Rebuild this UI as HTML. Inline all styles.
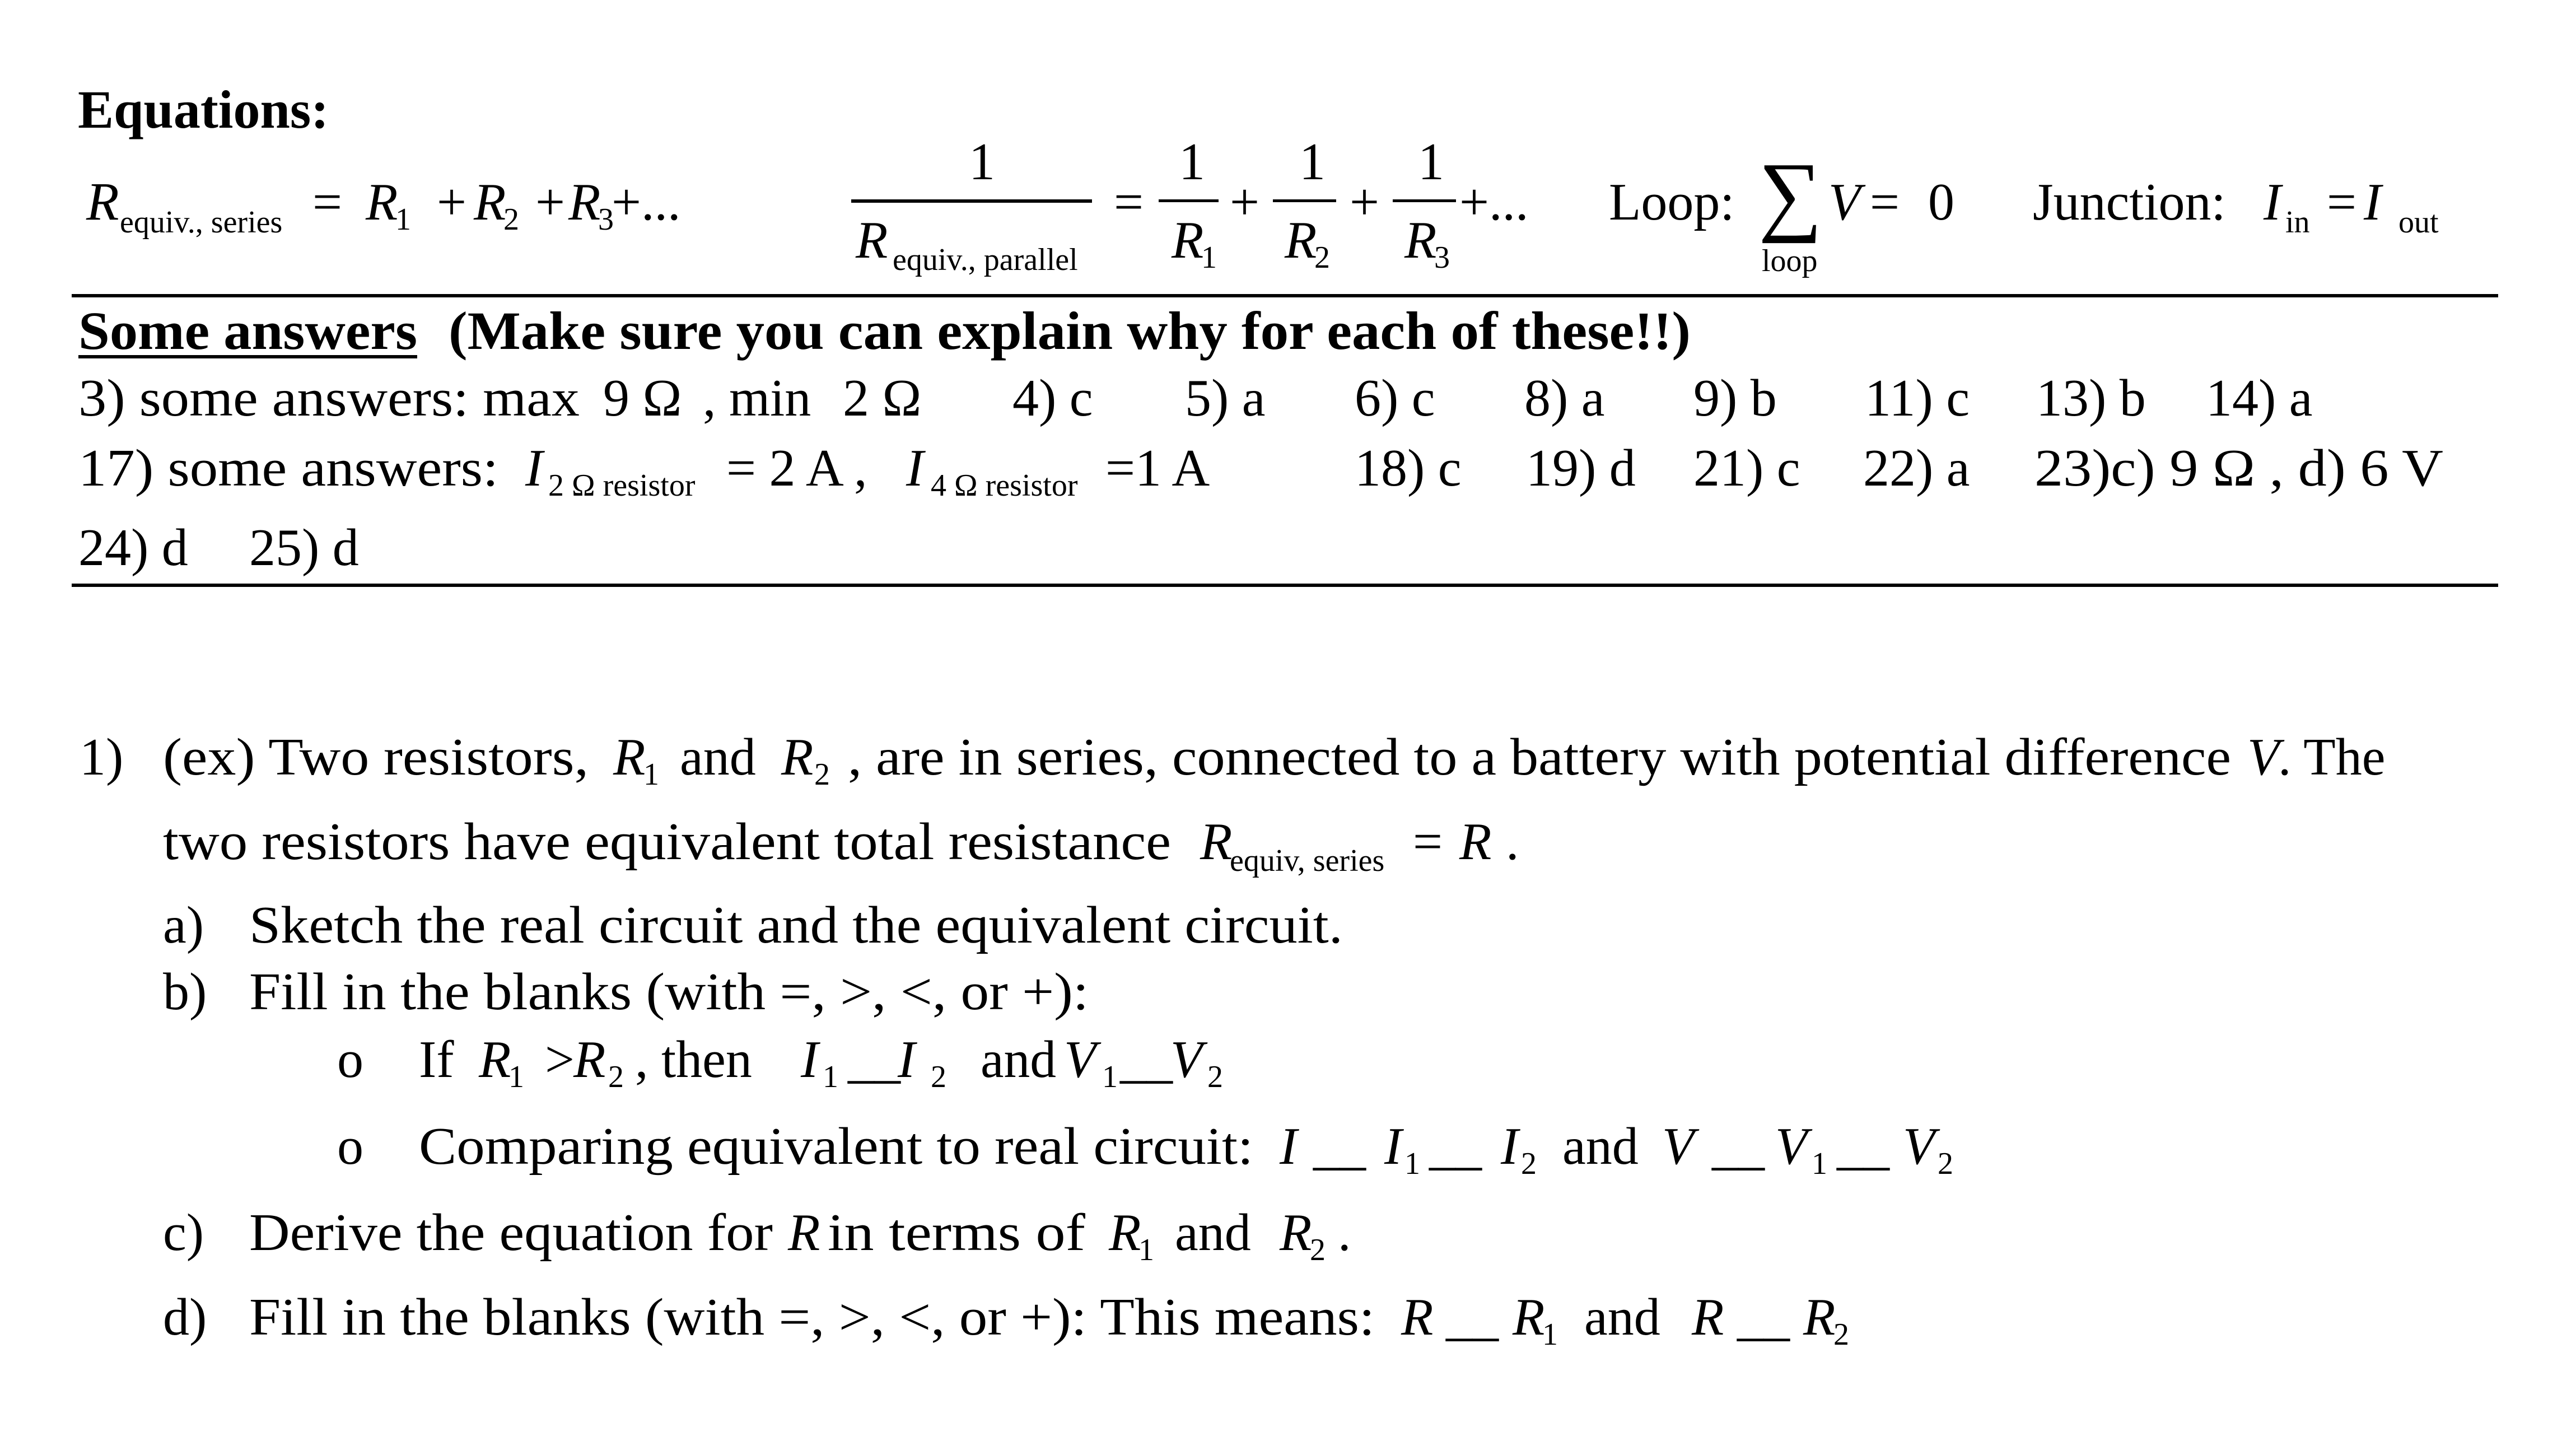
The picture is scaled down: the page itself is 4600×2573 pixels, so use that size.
<!DOCTYPE html>
<html><head><meta charset="utf-8"><style>
html,body{margin:0;padding:0;background:#fff;}
svg{display:block;}
text{font-family:"Liberation Serif",serif;fill:#000;}
.i{font-style:italic;}
.s{font-size:56px;}
.b{font-weight:bold;}
</style></head><body>
<svg width="4600" height="2573" viewBox="0 0 4600 2573" xmlns="http://www.w3.org/2000/svg" font-size="94">
<rect width="4600" height="2573" fill="#fff"/>
<text x="139" y="228" class="b" font-size="96">Equations:</text>

<text x="154" y="392" class="i" font-size="96">R</text>
<text x="214" y="415" class="s">equiv., series</text>
<text x="558" y="392">=</text>
<text x="653" y="392" class="i">R</text><text x="706" y="410" class="s">1</text>
<text x="780" y="392">+</text>
<text x="846" y="392" class="i">R</text><text x="899" y="410" class="s">2</text>
<text x="956" y="392">+</text>
<text x="1015" y="392" class="i">R</text><text x="1068" y="410" class="s">3</text>
<text x="1092" y="392">+...</text>

<text x="1730" y="320">1</text>
<rect x="1520" y="356" width="430" height="6"/>
<text x="1528" y="460" class="i">R</text>
<text x="1594" y="482" class="s">equiv., parallel</text>
<text x="1989" y="392">=</text>
<rect x="2069" y="356" width="107" height="5"/>
<text x="2105" y="320">1</text>
<text x="2092" y="460" class="i">R</text><text x="2145" y="478" class="s">1</text>
<text x="2196" y="392">+</text>
<rect x="2273" y="356" width="113" height="5"/>
<text x="2320" y="320">1</text>
<text x="2294" y="460" class="i">R</text><text x="2347" y="478" class="s">2</text>
<text x="2410" y="392">+</text>
<rect x="2487" y="356" width="113" height="5"/>
<text x="2532" y="320">1</text>
<text x="2508" y="460" class="i">R</text><text x="2561" y="478" class="s">3</text>
<text x="2606" y="392">+...</text>

<text x="2873" y="392">Loop:</text>
<text x="3140" y="400" font-size="160">∑</text>
<text x="3146" y="484" class="s">loop</text>
<text x="3265" y="392" class="i">V</text>
<text x="3339" y="392">=</text>
<text x="3443" y="392">0</text>
<text x="3630" y="392">Junction:</text>
<text x="4042" y="392" class="i">I</text><text x="4081" y="415" class="s">in</text>
<text x="4155" y="392">=</text>
<text x="4221" y="392" class="i">I</text><text x="4283" y="415" class="s">out</text>

<rect x="128" y="525" width="4333" height="6"/>

<text x="140" y="623" class="b" font-size="96" textLength="605" lengthAdjust="spacingAndGlyphs">Some answers</text>
<rect x="140" y="634" width="605" height="6"/>
<text x="801" y="623" class="b" font-size="96" textLength="2218" lengthAdjust="spacingAndGlyphs">(Make sure you can explain why for each of these!!)</text>

<text x="140" y="742" textLength="895" lengthAdjust="spacingAndGlyphs">3) some answers: max</text>
<text x="1077" y="742">9 Ω</text>
<text x="1255" y="742">, min</text>
<text x="1505" y="742">2 Ω</text>
<text x="1808" y="742">4) c</text>
<text x="2116" y="742">5) a</text>
<text x="2419" y="742">6) c</text>
<text x="2722" y="742">8) a</text>
<text x="3024" y="742">9) b</text>
<text x="3330" y="742">11) c</text>
<text x="3636" y="742">13) b</text>
<text x="3939" y="742">14) a</text>

<text x="140" y="867" textLength="750" lengthAdjust="spacingAndGlyphs">17) some answers:</text>
<text x="938" y="867" class="i">I</text><text x="979" y="885" class="s">2 Ω resistor</text>
<text x="1297" y="867">= 2 A ,</text>
<text x="1618" y="867" class="i">I</text><text x="1662" y="885" class="s">4 Ω resistor</text>
<text x="1974" y="867">=1 A</text>
<text x="2419" y="867">18) c</text>
<text x="2725" y="867">19) d</text>
<text x="3024" y="867">21) c</text>
<text x="3327" y="867">22) a</text>
<text x="3633" y="867" textLength="730" lengthAdjust="spacingAndGlyphs">23)c) 9 Ω , d) 6 V</text>

<text x="140" y="1009">24) d</text>
<text x="445" y="1009">25) d</text>

<rect x="128" y="1042" width="4333" height="6"/>

<text x="142" y="1383">1)</text>
<text x="291" y="1383" textLength="760" lengthAdjust="spacingAndGlyphs">(ex) Two resistors,</text>
<text x="1095" y="1383" class="i">R</text><text x="1149" y="1401" class="s">1</text>
<text x="1214" y="1383">and</text>
<text x="1395" y="1383" class="i">R</text><text x="1454" y="1401" class="s">2</text>
<text x="1514" y="1383" textLength="2470" lengthAdjust="spacingAndGlyphs">, are in series, connected to a battery with potential difference</text>
<text x="4013" y="1383" class="i">V</text>
<text x="4068" y="1383">. The</text>

<text x="291" y="1534" textLength="1800" lengthAdjust="spacingAndGlyphs">two resistors have equivalent total resistance</text>
<text x="2143" y="1534" class="i">R</text><text x="2196" y="1555" class="s">equiv, series</text>
<text x="2523" y="1534">=</text>
<text x="2606" y="1534" class="i">R</text>
<text x="2689" y="1534">.</text>

<text x="291" y="1683">a)</text>
<text x="445" y="1683" textLength="1953" lengthAdjust="spacingAndGlyphs">Sketch the real circuit and the equivalent circuit.</text>
<text x="291" y="1802">b)</text>
<text x="445" y="1802" textLength="1499" lengthAdjust="spacingAndGlyphs">Fill in the blanks (with =, &gt;, &lt;, or +):</text>

<text x="602" y="1923">o</text>
<text x="748" y="1923">If</text>
<text x="855" y="1923" class="i">R</text><text x="908" y="1941" class="s">1</text>
<text x="973" y="1923">&gt;</text>
<text x="1024" y="1923" class="i">R</text><text x="1086" y="1941" class="s">2</text>
<text x="1134" y="1923">, then</text>
<text x="1430" y="1923" class="i">I</text><text x="1469" y="1941" class="s">1</text>
<text x="1514" y="1923">__</text>
<text x="1603" y="1923" class="i">I</text><text x="1662" y="1941" class="s">2</text>
<text x="1751" y="1923" textLength="135" lengthAdjust="spacingAndGlyphs">and</text>
<text x="1900" y="1923" class="i">V</text><text x="1968" y="1941" class="s">1</text>
<text x="2000" y="1923">__</text>
<text x="2090" y="1923" class="i">V</text><text x="2156" y="1941" class="s">2</text>

<text x="602" y="2078">o</text>
<text x="748" y="2078" textLength="1490" lengthAdjust="spacingAndGlyphs">Comparing equivalent to real circuit:</text>
<text x="2285" y="2078" class="i">I</text>
<text x="2345" y="2078">__</text>
<text x="2472" y="2078" class="i">I</text><text x="2508" y="2096" class="s">1</text>
<text x="2552" y="2078">__</text>
<text x="2680" y="2078" class="i">I</text><text x="2716" y="2096" class="s">2</text>
<text x="2790" y="2078">and</text>
<text x="2968" y="2078" class="i">V</text>
<text x="3057" y="2078">__</text>
<text x="3170" y="2078" class="i">V</text><text x="3235" y="2096" class="s">1</text>
<text x="3280" y="2078">__</text>
<text x="3398" y="2078" class="i">V</text><text x="3460" y="2096" class="s">2</text>

<text x="291" y="2232">c)</text>
<text x="445" y="2232" textLength="935" lengthAdjust="spacingAndGlyphs">Derive the equation for</text>
<text x="1407" y="2232" class="i">R</text>
<text x="1478" y="2232" textLength="460" lengthAdjust="spacingAndGlyphs">in terms of</text>
<text x="1980" y="2232" class="i">R</text><text x="2033" y="2250" class="s">1</text>
<text x="2098" y="2232">and</text>
<text x="2285" y="2232" class="i">R</text><text x="2339" y="2250" class="s">2</text>
<text x="2389" y="2232">.</text>

<text x="291" y="2383">d)</text>
<text x="445" y="2383" textLength="2010" lengthAdjust="spacingAndGlyphs">Fill in the blanks (with =, &gt;, &lt;, or +): This means:</text>
<text x="2502" y="2383" class="i">R</text>
<text x="2582" y="2383">__</text>
<text x="2701" y="2383" class="i">R</text><text x="2754" y="2401" class="s">1</text>
<text x="2829" y="2383">and</text>
<text x="3021" y="2383" class="i">R</text>
<text x="3102" y="2383">__</text>
<text x="3220" y="2383" class="i">R</text><text x="3274" y="2401" class="s">2</text>
</svg>
</body></html>
